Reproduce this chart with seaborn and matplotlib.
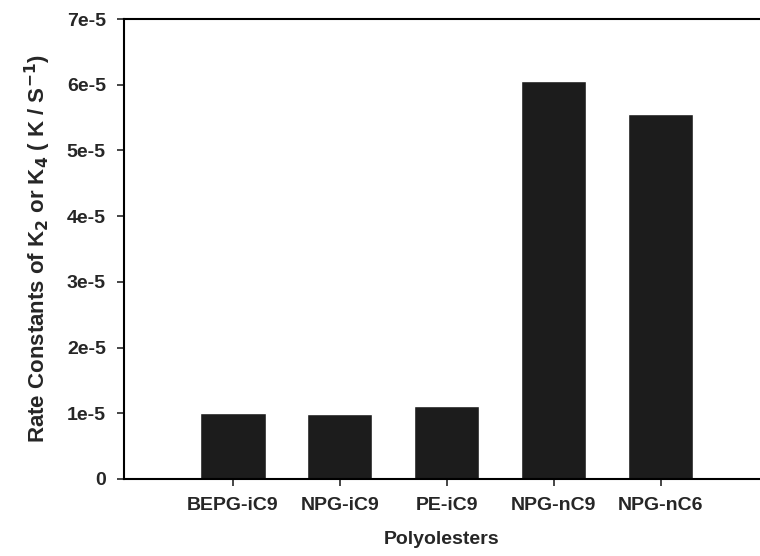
import matplotlib
matplotlib.use("Agg")
import matplotlib.pyplot as plt
import seaborn as sns
import pandas as pd

polyolesters = ["BEPG-iC9", "NPG-iC9", "PE-iC9", "NPG-nC9", "NPG-nC6"]
rate_constants = [1.0e-5, 0.99e-5, 1.11e-5, 6.06e-5, 5.55e-5]
ytick_values = [0, 1e-5, 2e-5, 3e-5, 4e-5, 5e-5, 6e-5, 7e-5]
ytick_labels = ["0", "1e-5", "2e-5", "3e-5", "4e-5", "5e-5", "6e-5", "7e-5"]

df = pd.DataFrame({"polyolester": polyolesters, "rate": rate_constants})

sns.set_style("white")
plt.rcParams["font.family"] = ["Liberation Sans", "DejaVu Sans"]
plt.rcParams["font.weight"] = "bold"

fig = plt.figure(figsize=(7.6, 5.56), dpi=100)
ax = fig.add_axes([0.163, 0.1385, 0.837, 0.8273])

sns.barplot(data=df, x="polyolester", y="rate", color="#1c1c1c",
            saturation=1, width=0.61, ax=ax)

ax.set_xlim(-1.02, 4.93)
ax.set_ylim(0, 7e-5)
ax.set_yticks(ytick_values)
ax.set_yticklabels(ytick_labels, fontsize=14, fontweight="bold")
ax.set_xticks(range(len(polyolesters)))
ax.set_xticklabels(polyolesters, fontsize=14, fontweight="bold")
ax.tick_params(axis="both", direction="out", length=5, width=1.2,
               bottom=True, left=True, pad=8)

ax.set_xlabel("Polyolesters", fontsize=14, fontweight="bold", labelpad=12)
ax.set_ylabel(r"Rate Constants of K$_\mathbf{2}$ or K$_\mathbf{4}$ ( K / S$^\mathbf{-1}$)",
              fontsize=16, fontweight="bold", labelpad=10)

for side in ["left", "top", "bottom"]:
    ax.spines[side].set_visible(True)
    ax.spines[side].set_linewidth(1.5)
    ax.spines[side].set_color("black")
ax.spines["right"].set_visible(False)

fig.savefig("out.png", dpi=100)
